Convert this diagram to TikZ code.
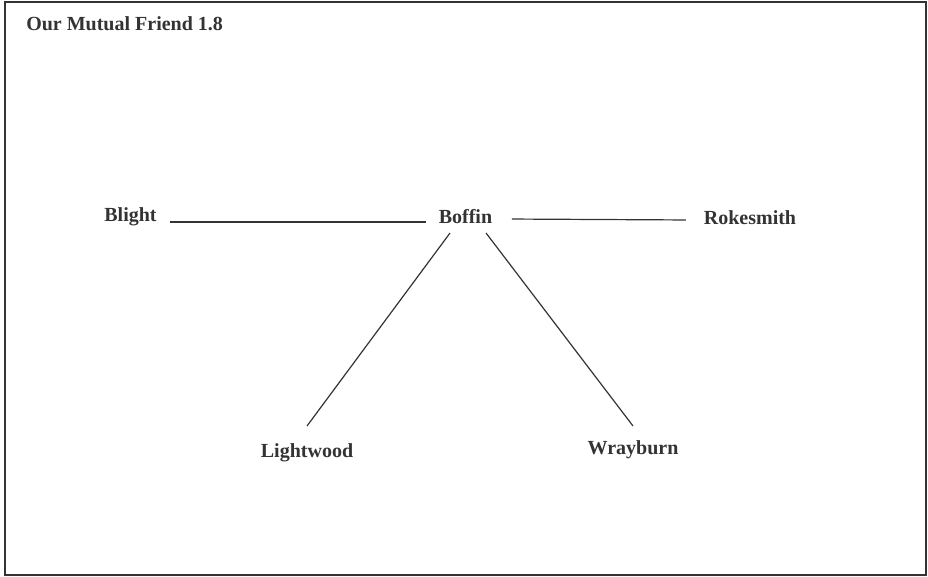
\documentclass[tikz,border=0pt]{standalone}
\usepackage{fontspec}
\setmainfont{Liberation Serif}
\usepackage{xcolor}
\usepackage{tikz}
\usetikzlibrary{positioning}

\definecolor{ink}{HTML}{333333}

\begin{document}
\begin{tikzpicture}[
      x=0.75pt, y=-0.75pt,
      font=\fontsize{15pt}{18pt}\selectfont\bfseries,
      person/.style={inner sep=0pt, outer xsep=9.75pt, outer ysep=3.75pt, text height=10.5pt, text depth=3pt, text=ink, anchor=base},
      tie/.style={draw=ink, line width=0.9pt}
    ]
    \useasboundingbox (0,0) rectangle (928,577);
    \draw[ink, line width=1.5pt] (4.5,2.5) rectangle (926,575);

    \node[text=ink, anchor=base west, inner sep=0pt] (title) at (26,31) {Our Mutual Friend 1.8};

    \node[person] (boffin)    at (465.5,224) {Boffin};
    \node[person] (blight)    at (130.5,222) {Blight};
    \node[person] (rokesmith) at (750,225)   {Rokesmith};
    \node[person] (lightwood) at (307,457)   {Lightwood};
    \node[person] (wrayburn)  at (633,454)   {Wrayburn};

    \draw[tie] (blight.base east) -- (blight.base east -| boffin.west);
    \draw[tie, shorten <=5pt, shorten >=3.75pt] (boffin.east) -- (rokesmith.west);
    \draw[tie] ([xshift=-11.6pt]boffin.south) -- ([yshift=9pt]lightwood.north);
    \draw[tie] ([xshift=15.4pt]boffin.south) -- ([yshift=6.75pt]wrayburn.north);
  \end{tikzpicture}
\end{document}
